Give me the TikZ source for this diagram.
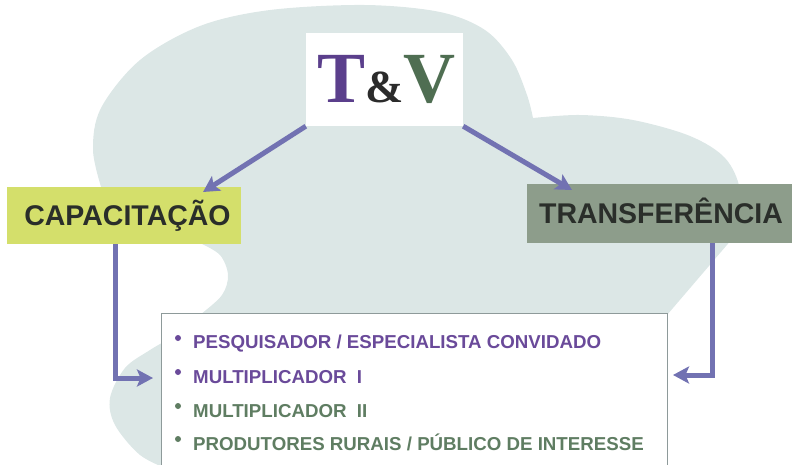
\documentclass[tikz,border=0pt]{standalone}
\usepackage{fontspec}
\setmainfont{Liberation Sans}
\newfontfamily\tvfont{Liberation Serif}
\usetikzlibrary{arrows.meta}
\definecolor{blobc}{HTML}{DCE7E6}
\definecolor{capc}{HTML}{D4DF6B}
\definecolor{trac}{HTML}{8D9D8B}
\definecolor{darkt}{HTML}{2A2E2A}
\definecolor{arrc}{HTML}{7272B2}
\definecolor{tpur}{HTML}{5B3F8C}
\definecolor{tamp}{HTML}{2B2B2B}
\definecolor{tgrn}{HTML}{4F6E52}
\definecolor{ipur}{HTML}{6A4A9A}
\definecolor{igrn}{HTML}{5F7D62}
\definecolor{bordc}{HTML}{8E9A9A}
\tikzset{
  boxc/.style={rectangle, inner sep=0pt, draw=none},
  arr/.style={draw=arrc, line width=5pt, -{Stealth[length=16pt,width=17pt,inset=3.5pt]}},
  bigt/.style={anchor=base, inner sep=0pt, text=darkt, font=\fontsize{28.5}{30}\selectfont\bfseries},
  itemt/.style={anchor=base west, inner sep=0pt, font=\fontsize{18.7}{20}\selectfont\bfseries},
  bul/.style={circle, inner sep=0pt, minimum size=6pt, draw=none}
}
\begin{document}
\begin{tikzpicture}[x=1pt,y=-1pt]
\useasboundingbox (0,0) rectangle (792,464);
% background blob
\fill[blobc]
  plot[smooth, tension=0.55] coordinates {(533,118) (580,115) (633,120) (690,136) (725,158) (740,190) (738,232)}
  -- (667,315) -- (660,470) -- (170,470)
  -- plot[smooth, tension=0.55] coordinates {(170,470) (140,455) (115,425) (110,398) (125,368) (150,350) (175,335) (200,315) (222,295) (228,275) (220,255) (200,243)}
  -- (102,190)
  -- plot[smooth, tension=0.55] coordinates {(102,190) (93,150) (101,108) (140,60) (200,26) (270,10) (365,5) (440,12) (485,30) (512,60) (527,95) (533,118)}
  -- cycle;
% boxes
\node[boxc, fill=white, minimum width=157pt, minimum height=93pt] (tv) at (384.5,79.5) {};
\node[boxc, fill=capc, minimum width=234pt, minimum height=57pt] (cap) at (124,215.5) {};
\node[boxc, fill=trac, minimum width=265pt, minimum height=59pt] (tra) at (659.5,213.5) {};
\node[boxc, fill=white, draw=bordc, line width=0.8pt, minimum width=506pt, minimum height=157pt] (list) at (414,391.5) {};
% texts
\node[anchor=base west, inner sep=0pt, font=\tvfont\bfseries] (tvt) at (317,102)
  {\textcolor{tpur}{\fontsize{72}{72}\selectfont T}\textcolor{tamp}{\fontsize{46}{46}\selectfont\&}\textcolor{tgrn}{\fontsize{72}{72}\selectfont V}};
\node[bigt] (capt) at (127.5,225) {CAPACITAÇÃO};
\node[bigt] (trat) at (661,223) {TRANSFERÊNCIA};
\node[itemt, text=ipur] (i1) at (193,348) {PESQUISADOR / ESPECIALISTA CONVIDADO};
\node[itemt, text=ipur] (i2) at (193,383) {MULTIPLICADOR\ \ I};
\node[itemt, text=igrn] (i3) at (193,417) {MULTIPLICADOR\ \ II};
\node[itemt, text=igrn] (i4) at (193,450) {PRODUTORES RURAIS / PÚBLICO DE INTERESSE};
\node[bul, fill=ipur] (b1) at (178,338) {};
\node[bul, fill=ipur] (b2) at (178,372) {};
\node[bul, fill=igrn] (b3) at (178,406) {};
\node[bul, fill=igrn] (b4) at (178,439) {};
% connectors
\coordinate (capin) at (203,192);
\coordinate (train) at (572,190);
\coordinate (cl) at (115,244);
\coordinate (lin) at (153,378);
\coordinate (cr) at (712,243);
\coordinate (rin) at (673,375);
\draw[arr] (tv.south west) -- (capin);
\draw[arr] (tv.south east) -- (train);
\draw[arr] (cl) |- (lin);
\draw[arr] (cr) |- (rin);
\end{tikzpicture}
\end{document}
